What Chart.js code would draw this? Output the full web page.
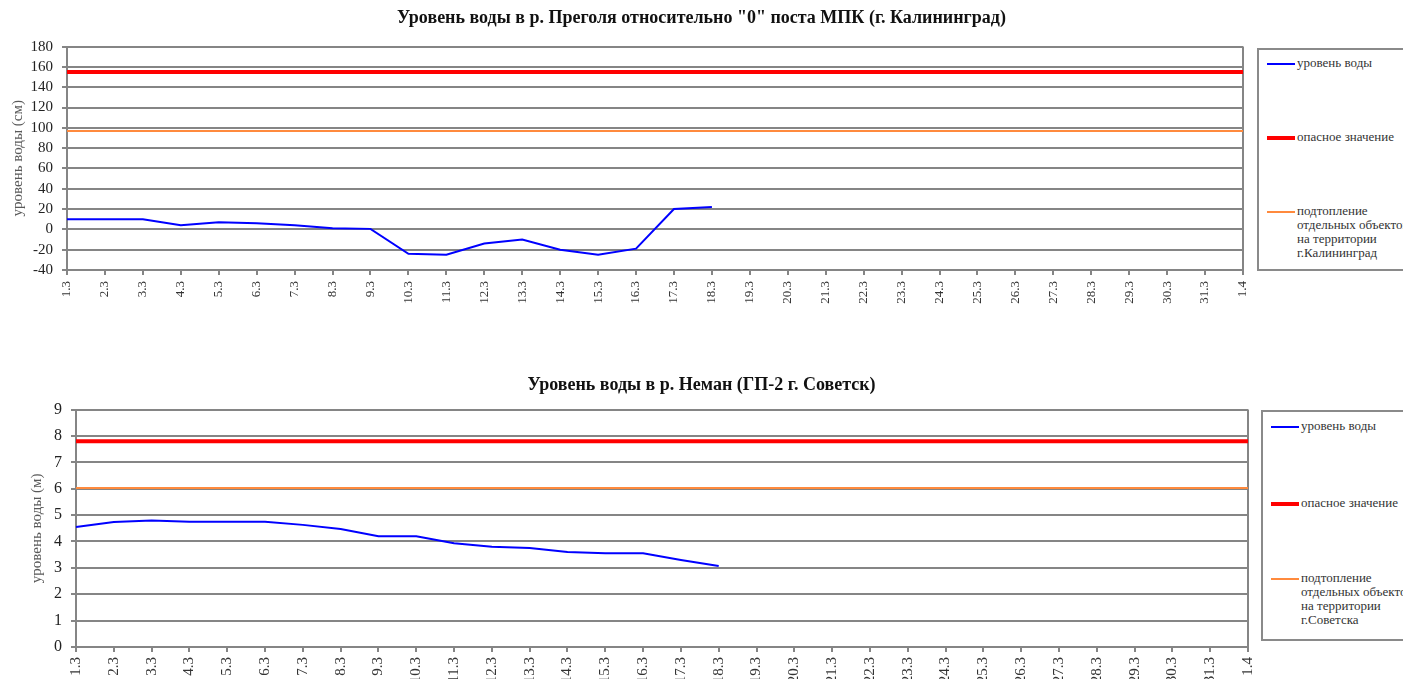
<!DOCTYPE html>
<html>
<head>
<meta charset="utf-8">
<script src="https://cdn.jsdelivr.net/npm/chart.js@4/dist/chart.umd.min.js"></script>
<style>
  html, body { margin: 0; padding: 0; background: #fff; width: 1403px; height: 679px; overflow: hidden; }
  .wrap { position: absolute; left: 0; }
  .legend { position: absolute; border: 2px solid #8a8a8a; background: #fff; box-sizing: border-box;
            font-family: "Liberation Serif", "Times New Roman", serif; font-size: 13px; color: #333; line-height: 14px; }
  .item { position: absolute; left: 8px; white-space: nowrap; }
  .sw { position: absolute; left: 0; width: 28px; }
  .txt { position: absolute; left: 30px; top: -8px; }
</style>
</head>
<body>
<div class="wrap" style="top:0;width:1403px;height:305px;"><canvas id="c1" width="1403" height="305"></canvas></div>
<div id="lg1" class="legend" style="left:1257px;top:48px;width:170px;height:223px;"></div>
<div class="wrap" style="top:360px;width:1403px;height:330px;"><canvas id="c2" width="1403" height="330"></canvas></div>
<div id="lg2" class="legend" style="left:1261px;top:410px;width:170px;height:231px;"></div>
<script>
// ---- data ----
const categories = ['1.3','2.3','3.3','4.3','5.3','6.3','7.3','8.3','9.3','10.3','11.3','12.3','13.3','14.3','15.3','16.3',
  '17.3','18.3','19.3','20.3','21.3','22.3','23.3','24.3','25.3','26.3','27.3','28.3','29.3','30.3','31.3','1.4'];

const pregolyaLevel = [10, 10, 10, 4, 7, 6, 4, 1, 0.5, -24, -25, -14, -10, -20, -25, -19, 20, 22];
const pregolyaDanger = [155,155,155,155,155,155,155,155,155,155,155,155,155,155,155,155,
  155,155,155,155,155,155,155,155,155,155,155,155,155,155,155,155];
const pregolyaFlood = [97,97,97,97,97,97,97,97,97,97,97,97,97,97,97,97,
  97,97,97,97,97,97,97,97,97,97,97,97,97,97,97,97];

const nemanLevel = [4.55, 4.74, 4.8, 4.75, 4.75, 4.75, 4.63, 4.47, 4.2, 4.2, 3.93, 3.8, 3.75, 3.6, 3.55, 3.55, 3.3, 3.07];
const nemanDanger = [7.8,7.8,7.8,7.8,7.8,7.8,7.8,7.8,7.8,7.8,7.8,7.8,7.8,7.8,7.8,7.8,
  7.8,7.8,7.8,7.8,7.8,7.8,7.8,7.8,7.8,7.8,7.8,7.8,7.8,7.8,7.8,7.8];
const nemanFlood = [6.03,6.03,6.03,6.03,6.03,6.03,6.03,6.03,6.03,6.03,6.03,6.03,6.03,6.03,6.03,6.03,
  6.03,6.03,6.03,6.03,6.03,6.03,6.03,6.03,6.03,6.03,6.03,6.03,6.03,6.03,6.03,6.03];

const pregolyaTicks = { min: -40, max: 180, step: 20 };
const nemanTicks = { min: 0, max: 9, step: 1 };

const titles = {
  pregolya: 'Уровень воды в р. Преголя относительно "0" поста МПК (г. Калининград)',
  neman: 'Уровень воды в р. Неман (ГП-2 г. Советск)'
};
const yTitles = { pregolya: 'уровень воды (см)', neman: 'уровень воды (м)' };
const seriesNames = {
  level: 'уровень воды',
  danger: 'опасное значение',
  floodPregolya: ['подтопление', 'отдельных объектов', 'на территории', 'г.Калининград'],
  floodNeman: ['подтопление', 'отдельных объектов', 'на территории', 'г.Советска']
};

// ---- styles ----
const GRID = '#858585';
const SERIF = "'Liberation Serif', 'Times New Roman', serif";
const BLUE = '#0000ff', RED = '#ff0000', ORANGE = '#ff8a3d';

function makeChart(id, cfg) {
  const last = categories.length - 1;
  return new Chart(document.getElementById(id), {
    type: 'line',
    data: {
      labels: categories,
      datasets: [
        { label: seriesNames.level, data: cfg.level, borderColor: BLUE, borderWidth: 2, pointRadius: 0, tension: 0, order: 1 },
        { label: seriesNames.danger, data: cfg.danger, borderColor: RED, borderWidth: 4, pointRadius: 0, order: 2 },
        { label: cfg.floodName.join(' '), data: cfg.flood, borderColor: ORANGE, borderWidth: 2, pointRadius: 0, order: 3 }
      ]
    },
    options: {
      responsive: false,
      animation: false,
      events: [],
      layout: { padding: 0 },
      plugins: {
        legend: { display: false },
        tooltip: { enabled: false },
        title: {
          display: true, text: cfg.title, color: '#111',
          font: { family: SERIF, size: 18, weight: 'bold' },
          padding: cfg.titlePad
        }
      },
      scales: {
        x: {
          offset: false,
          grid: {
            color: c => (c.index === last ? GRID : 'rgba(0,0,0,0)'),
            lineWidth: 2, tickColor: GRID, tickLength: 5, drawOnChartArea: true
          },
          border: { color: GRID, width: 2 },
          ticks: { autoSkip: false, maxRotation: 90, minRotation: 90, padding: cfg.xPad, color: '#333',
                   font: { family: SERIF, size: cfg.xFont } },
          afterFit: s => { s.height = cfg.xHeight; }
        },
        y: {
          min: cfg.ticks.min, max: cfg.ticks.max,
          grid: { color: GRID, lineWidth: 2, tickColor: GRID, tickLength: 5 },
          border: { color: GRID, width: 2 },
          ticks: { stepSize: cfg.ticks.step, autoSkip: false, padding: 9, color: '#222',
                   font: { family: SERIF, size: cfg.yFont } },
          title: { display: true, text: cfg.yTitle, color: '#595959', font: { family: SERIF, size: 15 },
                   padding: { top: cfg.yTitlePad, bottom: 0 } },
          afterFit: s => { s.width = cfg.yWidth; }
        },
        reserve: {
          type: 'linear', position: 'right', display: true,
          grid: { display: false, drawTicks: false }, border: { display: false },
          ticks: { display: false },
          afterFit: s => { s.width = cfg.rightWidth; }
        }
      }
    }
  });
}

function buildLegend(el, chart, pos) {
  chart.data.datasets.forEach((ds, i) => {
    const item = document.createElement('div');
    item.className = 'item';
    item.style.top = pos[i] + 'px';
    const sw = document.createElement('div');
    sw.className = 'sw';
    sw.style.height = ds.borderWidth + 'px';
    sw.style.top = (-ds.borderWidth / 2) + 'px';
    sw.style.background = ds.borderColor;
    const t = document.createElement('div');
    t.className = 'txt';
    const lines = i === 2 ? pos.lines : [ds.label];
    lines.forEach((ln, k) => { if (k) t.appendChild(document.createElement('br')); t.appendChild(document.createTextNode(ln)); });
    item.appendChild(sw); item.appendChild(t);
    el.appendChild(item);
  });
}

const c1 = makeChart('c1', {
  level: pregolyaLevel, danger: pregolyaDanger, flood: pregolyaFlood, floodName: seriesNames.floodPregolya,
  title: titles.pregolya, yTitle: yTitles.pregolya, ticks: pregolyaTicks,
  titlePad: { top: 8, bottom: 17 }, xHeight: 35, yWidth: 67, yTitlePad: 9, rightWidth: 160,
  xFont: 13, xPad: 6, yFont: 15
});
const c2 = makeChart('c2', {
  level: nemanLevel, danger: nemanDanger, flood: nemanFlood, floodName: seriesNames.floodNeman,
  title: titles.neman, yTitle: yTitles.neman, ticks: nemanTicks,
  titlePad: { top: 15, bottom: 13 }, xHeight: 43, yWidth: 76, yTitlePad: 28, rightWidth: 155,
  xFont: 15, xPad: 5, yFont: 16
});

const p1 = [14, 88, 162]; p1.lines = seriesNames.floodPregolya;
const p2 = [15, 92, 167]; p2.lines = seriesNames.floodNeman;
buildLegend(document.getElementById('lg1'), c1, p1);
buildLegend(document.getElementById('lg2'), c2, p2);
</script>
</body>
</html>
